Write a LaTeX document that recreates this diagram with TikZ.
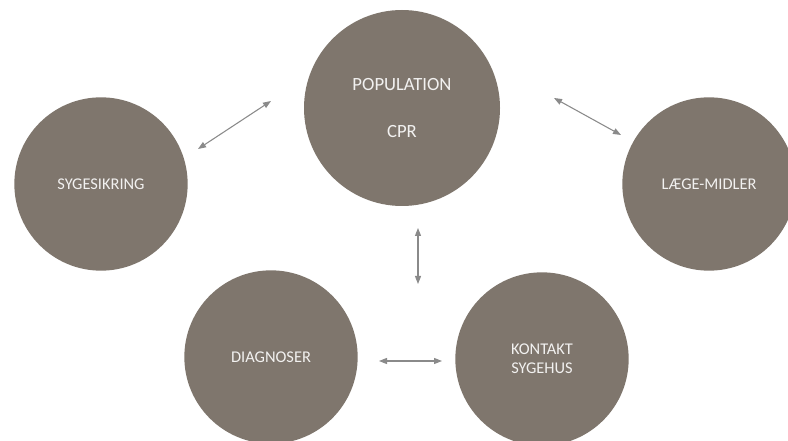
\documentclass[tikz,border=0pt]{standalone}
\usepackage{fontspec}
\setmainfont{Carlito}
\usetikzlibrary{arrows.meta}
\definecolor{taupe}{HTML}{7F766D}
\definecolor{linegray}{HTML}{8A8A8A}
\begin{document}
\begin{tikzpicture}
    [x=0.75pt,y=-0.75pt,
     bubble/.style={circle,fill=taupe,draw=none,inner sep=0pt,minimum size=130pt,
       text=white!90!taupe,align=center,font=\fontsize{12.3}{14.3}\selectfont},
     link/.style={draw=linegray,line width=0.8pt,
       {Triangle[length=6pt,width=4.5pt]}-{Triangle[length=6pt,width=4.5pt]}}]
  \useasboundingbox (0,0) rectangle (788,441);
  % circles
  \node[bubble,minimum size=147pt,font=\fontsize{14}{16}\selectfont] (pop) at (402,108)
    {POPULATION\\[19pt]CPR};
  \node[bubble] (sikring) at (101,184) {SYGESIKRING};
  \node[bubble] (midler) at (709,184) {LÆGE-MIDLER};
  \node[bubble] (diag) at (271,357) {DIAGNOSER};
  \node[bubble] (kontakt) at (542,359) {KONTAKT\\SYGEHUS};
  % arrow ends
  \coordinate (a1) at (198,149); \coordinate (a2) at (271,101);
  \coordinate (b1) at (554,98);  \coordinate (b2) at (621,135);
  \coordinate (c1) at (418,228); \coordinate (c2) at (418,284);
  \coordinate (d1) at (379,361); \coordinate (d2) at (442,361);
  \draw[link] (a1) -- (a2);
  \draw[link] (b1) -- (b2);
  \draw[link] (c1) -- (c2);
  \draw[link] (d1) -- (d2);
\end{tikzpicture}
\end{document}
